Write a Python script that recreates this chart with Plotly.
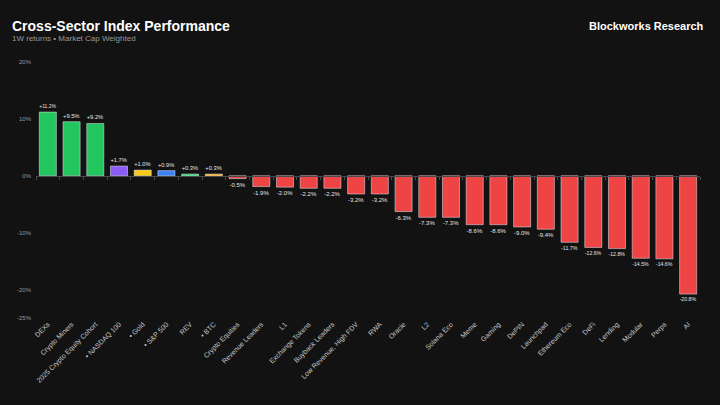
import plotly.graph_objects as go

categories = ["DEXs", "Crypto Miners", "2025 Crypto Equity Cohort", "• NASDAQ 100", "• Gold",
              "• S&P 500", "REV", "• BTC", "Crypto Equities", "Revenue Leaders", "L1",
              "Exchange Tokens", "Buyback Leaders", "Low Revenue, High FDV", "RWA", "Oracle",
              "L2", "Solana Eco", "Meme", "Gaming", "DePIN", "Launchpad", "Ethereum Eco",
              "DeFi", "Lending", "Modular", "Perps", "AI"]
values = [11.2, 9.5, 9.2, 1.7, 1.0, 0.9, 0.3, 0.3, -0.5, -1.9, -2.0, -2.2, -2.2, -3.2, -3.2,
          -6.3, -7.3, -7.3, -8.6, -8.6, -9.0, -9.4, -11.7, -12.6, -12.8, -14.5, -14.6, -20.8]
special_colors = {"• NASDAQ 100": "#8b5cf6", "• Gold": "#facc15", "• S&P 500": "#3b82f6",
                  "• BTC": "#f59e0b"}
y_ticks = [-25, -20, -10, 0, 10, 20]
y_range = [-25, 20]

GREEN = "#22c55e"
RED = "#ef4444"
colors = [special_colors.get(c, GREEN if v >= 0 else RED) for c, v in zip(categories, values)]
labels = [("+" if v >= 0 else "") + f"{v:.1f}%" for v in values]

fig = go.Figure()
fig.add_trace(go.Bar(
    x=categories, y=values, marker=dict(color=colors, line=dict(width=0)),
    text=labels, textposition="outside", cliponaxis=False,
    textfont=dict(size=6, color="#e5e5e5", family="Liberation Sans"),
    hoverinfo="skip", showlegend=False,
))
fig.add_trace(go.Bar(
    x=categories, y=values, xaxis="x2", marker=dict(color="rgba(0,0,0,0)"),
    hoverinfo="skip", showlegend=False,
))

zero_pos = (0 - y_range[0]) / (y_range[1] - y_range[0])
PW, PH = 664, 256

fig.update_layout(
    width=720, height=405,
    paper_bgcolor="#121212", plot_bgcolor="#121212",
    margin=dict(l=36, r=20, t=62, b=87),
    bargap=0.28,
    font=dict(family="Liberation Sans", color="#bdbdbd"),
    xaxis=dict(
        type="category", categoryorder="array", categoryarray=categories,
        tickangle=-45, tickfont=dict(size=7, color="#c8c8c8"),
        showgrid=False, zeroline=False, showline=False, ticks="", ticklen=0,
        range=[-0.5, len(categories) - 0.5],
    ),
    xaxis2=dict(
        type="category", categoryorder="array", categoryarray=categories,
        overlaying="x", matches="x", anchor="free", position=zero_pos,
        showticklabels=False, showgrid=False, zeroline=False,
        showline=True, linecolor="#4a4a4a", linewidth=1,
        ticks="outside", ticklen=3, tickcolor="#4a4a4a", tickson="boundaries",
    ),
    yaxis=dict(
        range=y_range, tickvals=y_ticks, ticktext=[f"{t}%" for t in y_ticks],
        tickfont=dict(size=6, color="#9a9a9a"), showgrid=False, zeroline=False,
        showline=False, ticks="", ticklabelstandoff=4,
    ),
    annotations=[
        dict(text="<b>Cross-Sector Index Performance</b>", xref="paper", yref="paper",
             x=-26/PW, y=1 + 26/PH, xanchor="left", yanchor="bottom", showarrow=False,
             font=dict(size=14, color="#ffffff", family="Liberation Sans")),
        dict(text="1W returns • Market Cap Weighted", xref="paper", yref="paper",
             x=-26/PW, y=1 + 17/PH, xanchor="left", yanchor="bottom", showarrow=False,
             font=dict(size=8, color="#9a9a9a", family="Liberation Sans")),
        dict(text="<b>Blockworks Research</b>", xref="paper", yref="paper",
             x=1 + 6/PW, y=1 + 28/PH, xanchor="right", yanchor="bottom", showarrow=False,
             font=dict(size=11, color="#ffffff", family="Liberation Sans")),
    ],
)

fig.write_html("out.html", config={"displayModeBar": False},
               post_script="document.body.style.margin='0';document.body.style.background='#121212';")
